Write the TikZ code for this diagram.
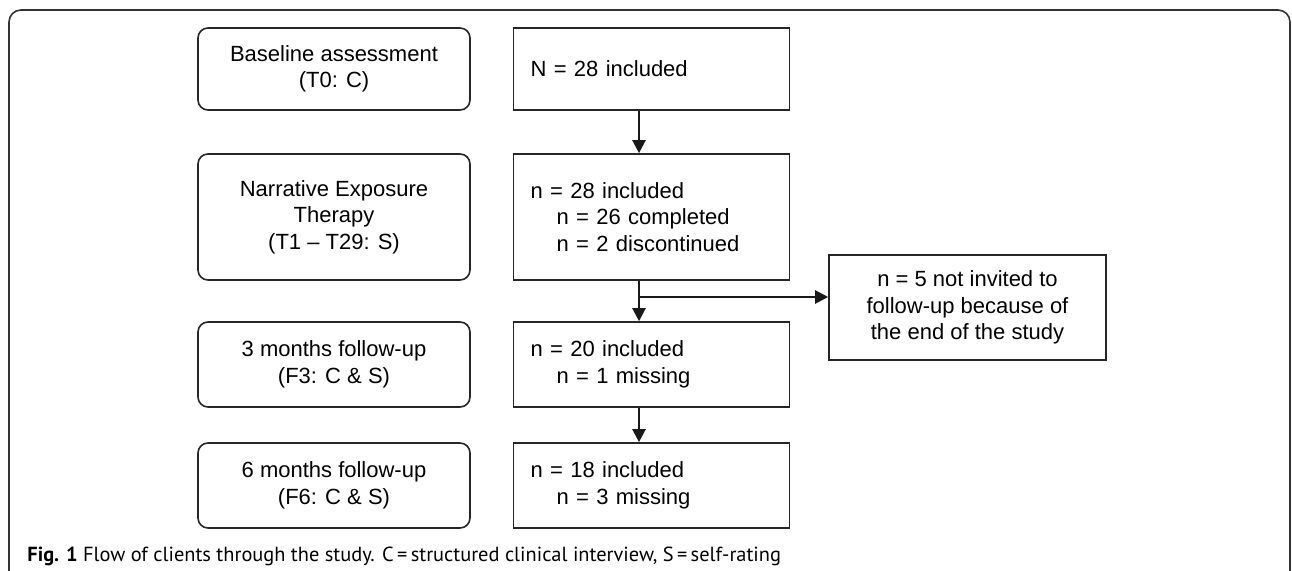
\documentclass[tikz,border=0pt]{standalone}
\usepackage{fontspec}
\setmainfont{Liberation Sans}
\newfontfamily\capfont{PT Sans}
\usetikzlibrary{positioning,arrows.meta}

\tikzset{
  phase/.style={draw=black!85, rounded corners=5pt, line width=0.8pt,
    minimum width=136pt, align=center, font=\fontsize{11}{13.25}\selectfont},
  count/.style={draw=black!85, line width=0.8pt, text width=121pt,
    inner xsep=8.5pt, align=left, font=\fontsize{11}{13.25}\selectfont},
  flow/.style={-{Triangle[width=6.5pt,length=6.5pt]}, line width=1.1pt, draw=black!90},
  frame/.style={draw=black!80, line width=0.8pt, rounded corners=6pt}
}
\newcommand{\ind}{\hspace*{13pt}}

\begin{document}
\begin{tikzpicture}[x=0.5pt,y=-0.5pt]
\useasboundingbox (0,0) rectangle (1292,571);
\draw[frame] (9,571) -- (9,10) -- (1290,10) -- (1290,571);

% phases on the left
\node[phase, minimum height=41pt]   (base) at (334,69)    {Baseline assessment\\(T0: C)};
\node[phase, minimum height=63pt]   (net)  at (334,217)   {Narrative Exposure\\Therapy\\(T1 -- T29: S)};
\node[phase, minimum height=42.5pt] (fu3)  at (334,364.5) {3 months follow-up\\(F3: C \& S)};
\node[phase, minimum height=42.5pt] (fu6)  at (334,485.5) {6 months follow-up\\(F6: C \& S)};

% numbers on the right
\node[count, minimum height=41pt]   (n0) [right=21pt of base] {N = 28 included};
\node[count, minimum height=63pt]   (n1) [right=21pt of net]  {n = 28 included\\\ind n = 26 completed\\\ind n = 2 discontinued};
\node[count, minimum height=42.5pt] (n2) [right=21pt of fu3]  {n = 20 included\\\ind n = 1 missing};
\node[count, minimum height=42.5pt] (n3) [right=21pt of fu6]  {n = 18 included\\\ind n = 3 missing};

\node[draw=black!85, line width=0.8pt, minimum width=138.5pt, minimum height=52.5pt,
  align=center, font=\fontsize{11}{13.25}\selectfont] (lost) at (967.5,307.5)
  {n = 5 not invited to\\follow-up because of\\the end of the study};

\coordinate (spine) at (639,0);
\coordinate (fork) at (639,297);
\draw[flow] (n0.south -| spine) -- (n1.north -| spine);
\draw[flow] (n1.south -| spine) -- (n2.north -| spine);
\draw[flow] (n2.south -| spine) -- (n3.north -| spine);
\draw[flow] (fork) -- (fork -| lost.west);

\node[anchor=west, inner sep=0pt, font=\capfont\fontsize{10.2}{12}\selectfont] (cap) at (27,556)
  {\textbf{Fig. 1} Flow of clients through the study. C\,=\,structured clinical interview, S\,=\,self-rating};
\end{tikzpicture}
\end{document}
